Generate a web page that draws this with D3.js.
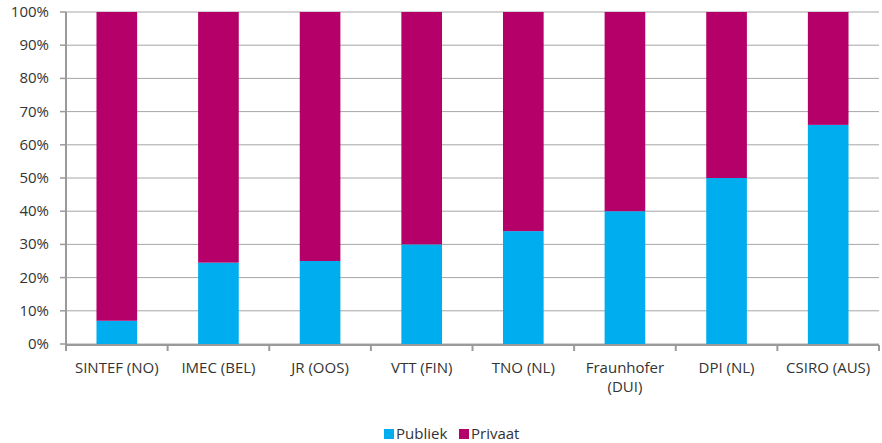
<!DOCTYPE html>
<html>
<head>
<meta charset="utf-8">
<script src="https://cdn.jsdelivr.net/npm/d3@7"></script>
<style>
  html, body { margin: 0; padding: 0; background: #fff; overflow: hidden; }
  svg { display: block; }
  text { font-family: "Open Sans", sans-serif; fill: #333; }
</style>
</head>
<body>
<svg id="chart" width="882" height="443"></svg>
<script>
// Publiek vs privaat aandeel per instituut
const categories = ["SINTEF (NO)", "IMEC (BEL)", "JR (OOS)", "VTT (FIN)", "TNO (NL)", "Fraunhofer (DUI)", "DPI (NL)", "CSIRO (AUS)"];
const publiek = [7, 24.5, 25, 30, 34, 40, 50, 66];
const privaat = publiek.map((v) => 100 - v);
const yTicks = [0, 10, 20, 30, 40, 50, 60, 70, 80, 90, 100];
const seriesNames = ["Publiek", "Privaat"];
const colors = ["#00aeef", "#b5006a"];

const svg = d3.select("#chart");
const margin = { top: 12, right: 3, bottom: 99, left: 66 };
const width = +svg.attr("width");
const height = +svg.attr("height");
const innerWidth = width - margin.left - margin.right;
const innerHeight = height - margin.top - margin.bottom;

const g = svg.append("g").attr("transform", `translate(${margin.left},${margin.top})`);

const x = d3.scaleBand().domain(categories).range([0, innerWidth]).paddingInner(0.6).paddingOuter(0.3);
const y = d3.scaleLinear().domain([0, 100]).range([innerHeight, 0]);

// gridlines
g.append("g")
  .selectAll("line")
  .data(yTicks)
  .join("line")
  .attr("x1", 0)
  .attr("x2", innerWidth)
  .attr("y1", (d) => y(d))
  .attr("y2", (d) => y(d))
  .attr("stroke", "#a6a6a6")
  .attr("stroke-width", 1);

// stacked bars
const rows = categories.map((c, i) => ({ cat: c, Publiek: publiek[i], Privaat: privaat[i] }));
const stack = d3.stack().keys(seriesNames)(rows);

g.append("g")
  .selectAll("g")
  .data(stack)
  .join("g")
  .attr("fill", (d, i) => colors[i])
  .selectAll("rect")
  .data((d) => d)
  .join("rect")
  .attr("x", (d) => x(d.data.cat))
  .attr("width", x.bandwidth())
  .attr("y", (d) => y(d[1]))
  .attr("height", (d) => y(d[0]) - y(d[1]));

// y axis (line, ticks, labels)
const yAxis = g.append("g");
yAxis.append("line")
  .attr("y1", 0).attr("y2", innerHeight + 2)
  .attr("stroke", "#9a9a9a").attr("stroke-width", 2);
yAxis.selectAll("line.tk")
  .data(yTicks)
  .join("line")
  .attr("class", "tk")
  .attr("x1", -6).attr("x2", 0)
  .attr("y1", (d) => y(d)).attr("y2", (d) => y(d))
  .attr("stroke", "#9a9a9a").attr("stroke-width", 1.5);
yAxis.selectAll("text")
  .data(yTicks)
  .join("text")
  .attr("text-anchor", "end")
  .attr("font-size", 15)
  .attr("x", -17)
  .attr("y", (d) => y(d) + 5)
  .text((d) => d + "%");

// x axis
const xAxisG = g.append("g").attr("transform", `translate(0,${innerHeight + 1})`);
xAxisG.append("line")
  .attr("x1", 0).attr("x2", innerWidth)
  .attr("stroke", "#9a9a9a").attr("stroke-width", 2);
const step = x.step();
xAxisG.selectAll("line.tk")
  .data(d3.range(categories.length + 1))
  .join("line")
  .attr("class", "tk")
  .attr("x1", (d) => d * step)
  .attr("x2", (d) => d * step)
  .attr("y1", 0)
  .attr("y2", 6)
  .attr("stroke", "#9a9a9a")
  .attr("stroke-width", 2);

xAxisG.selectAll("text")
  .data(categories)
  .join("text")
  .attr("text-anchor", "middle")
  .attr("font-size", 15)
  .attr("x", (d) => x(d) + x.bandwidth() / 2)
  .attr("y", 28)
  .each(function (d) {
    const t = d3.select(this);
    const parts = d === "Fraunhofer (DUI)" ? ["Fraunhofer", "(DUI)"] : [d];
    parts.forEach((p, i) => {
      t.append("tspan")
        .attr("x", x(d) + x.bandwidth() / 2)
        .attr("dy", i === 0 ? 0 : 19)
        .text(p);
    });
  });

// legend
const legend = svg.append("g").attr("transform", "translate(384,429)");
const legendX = [0, 75];
seriesNames.forEach((name, i) => {
  const lg = legend.append("g").attr("transform", `translate(${legendX[i]},0)`);
  lg.append("rect").attr("width", 10).attr("height", 10).attr("fill", colors[i]);
  lg.append("text").attr("x", 12).attr("y", 10).attr("font-size", 15).text(name);
});
</script>
</body>
</html>
